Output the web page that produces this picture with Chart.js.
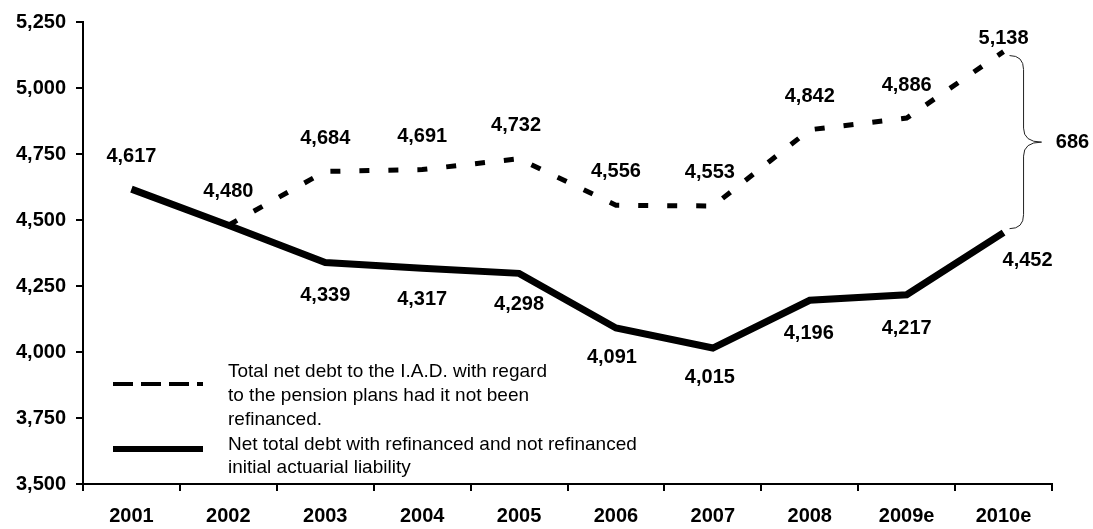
<!DOCTYPE html>
<html>
<head>
<meta charset="utf-8">
<script src="https://cdn.jsdelivr.net/npm/chart.js@4"></script>
<style>
  body { margin: 0; background: #fff; }
  #wrap { width: 1093px; height: 529px; }
</style>
</head>
<body>
<div id="wrap"><canvas id="myChart" width="1093" height="529"></canvas></div>
<script>
// Data
const categories = ['2001', '2002', '2003', '2004', '2005', '2006', '2007', '2008', '2009e', '2010e'];
const netTotalDebt = [4617, 4480, 4339, 4317, 4298, 4091, 4015, 4196, 4217, 4452];
const notRefinancedDebt = [null, 4480, 4684, 4691, 4732, 4556, 4553, 4842, 4886, 5138];
const yMin = 3500, yMax = 5250, yStep = 250;
const gapLabel = '686';

const legendTexts = [
  ['Total net debt to the I.A.D. with regard', 'to the pension plans had it not been', 'refinanced.'],
  ['Net total debt with refinanced and not refinanced', 'initial actuarial liability']
];

// label offsets (dx, dy) from each point; null = no label
const solidOffsets = [[0, -33], null, [0, 33], [0, 31], [0, 31], [-4, 30], [-3, 29], [-1, 33], [0, 34], [24, 28]];
const dashOffsets = [null, [0, -34], [0, -33], [0, -33], [-3, -33], [0, -34], [-3, -34], [0, -33], [0, -33], [0, -13]];

const FONT = "'Liberation Sans', Arial, sans-serif";
const fmt = v => v.toLocaleString('en-US');

const valueLabels = {
  id: 'valueLabels',
  afterDatasetsDraw(chart) {
    const ctx = chart.ctx;
    ctx.save();
    ctx.font = 'bold 20px ' + FONT;
    ctx.fillStyle = '#000';
    ctx.textAlign = 'center';
    ctx.textBaseline = 'middle';
    [[0, netTotalDebt, solidOffsets], [1, notRefinancedDebt, dashOffsets]].forEach(([di, vals, offs]) => {
      const meta = chart.getDatasetMeta(di);
      vals.forEach((v, i) => {
        if (v == null || !offs[i]) return;
        const p = meta.data[i];
        ctx.fillText(fmt(v), p.x + offs[i][0], p.y + offs[i][1]);
      });
    });
    ctx.restore();
  }
};

const braceAndLegend = {
  id: 'braceAndLegend',
  afterDraw(chart) {
    const ctx = chart.ctx;
    const last = categories.length - 1;
    const top = chart.getDatasetMeta(1).data[last];
    const bot = chart.getDatasetMeta(0).data[last];
    // brace
    const x0 = top.x + 6, y0 = top.y + 4, y1 = bot.y - 4;
    const xm = x0 + 14, xt = x0 + 32, ym = (y0 + y1) / 2;
    ctx.save();
    ctx.strokeStyle = '#222';
    ctx.lineWidth = 1;
    ctx.beginPath();
    ctx.moveTo(x0, y0);
    ctx.quadraticCurveTo(xm, y0, xm, y0 + 14);
    ctx.lineTo(xm, ym - 14);
    ctx.quadraticCurveTo(xm, ym, xt, ym);
    ctx.quadraticCurveTo(xm, ym, xm, ym + 14);
    ctx.lineTo(xm, y1 - 14);
    ctx.quadraticCurveTo(xm, y1, x0, y1);
    ctx.stroke();
    ctx.font = 'bold 20px ' + FONT;
    ctx.fillStyle = '#000';
    ctx.textAlign = 'center';
    ctx.textBaseline = 'middle';
    ctx.fillText(gapLabel, xt + 31, ym);

    // legend
    const lx = 113, lw = 90, tx = 228;
    ctx.strokeStyle = '#000';
    ctx.lineWidth = 4;
    ctx.setLineDash([20, 8]);
    ctx.beginPath();
    ctx.moveTo(lx, 384); ctx.lineTo(lx + lw, 384);
    ctx.stroke();
    ctx.setLineDash([]);
    ctx.lineWidth = 6;
    ctx.beginPath();
    ctx.moveTo(lx, 449); ctx.lineTo(lx + lw, 449);
    ctx.stroke();
    ctx.font = '19px ' + FONT;
    ctx.textAlign = 'left';
    legendTexts[0].forEach((t, i) => ctx.fillText(t, tx, 372 + i * 24));
    legendTexts[1].forEach((t, i) => ctx.fillText(t, tx, 445 + i * 23));
    ctx.restore();
  }
};

const ctx = document.getElementById('myChart').getContext('2d');
const myChart = new Chart(ctx, {
  type: 'line',
  data: {
    labels: categories,
    datasets: [{
      label: 'Net total debt with refinanced and not refinanced initial actuarial liability',
      data: netTotalDebt,
      borderColor: '#000',
      borderWidth: 7,
      pointRadius: 0,
      tension: 0
    }, {
      label: 'Total net debt to the I.A.D. with regard to the pension plans had it not been refinanced.',
      data: notRefinancedDebt,
      borderColor: '#000',
      borderWidth: 5,
      borderDash: [10, 19],
      pointRadius: 0,
      tension: 0
    }]
  },
  options: {
    responsive: false,
    animation: false,
    layout: { padding: { top: 21, right: 41, left: 0, bottom: 0 } },
    plugins: { legend: { display: false }, tooltip: { enabled: false } },
    scales: {
      x: {
        offset: true,
        grid: { offset: true, drawOnChartArea: false, tickLength: 7, color: '#000', lineWidth: 2 },
        border: { color: '#000', width: 2 },
        ticks: { color: '#000', padding: 13, maxRotation: 0, font: { family: FONT, size: 20, weight: 'bold' } },
        afterFit: s => { s.height = 45; }
      },
      y: {
        min: yMin,
        max: yMax,
        grid: { drawOnChartArea: false, tickLength: 7, color: '#000', lineWidth: 2 },
        border: { color: '#000', width: 2 },
        ticks: { stepSize: yStep, color: '#000', padding: 10, callback: v => fmt(v), font: { family: FONT, size: 20, weight: 'bold' } },
        afterFit: s => { s.width = 83; }
      }
    }
  },
  plugins: [valueLabels, braceAndLegend]
});
</script>
</body>
</html>
